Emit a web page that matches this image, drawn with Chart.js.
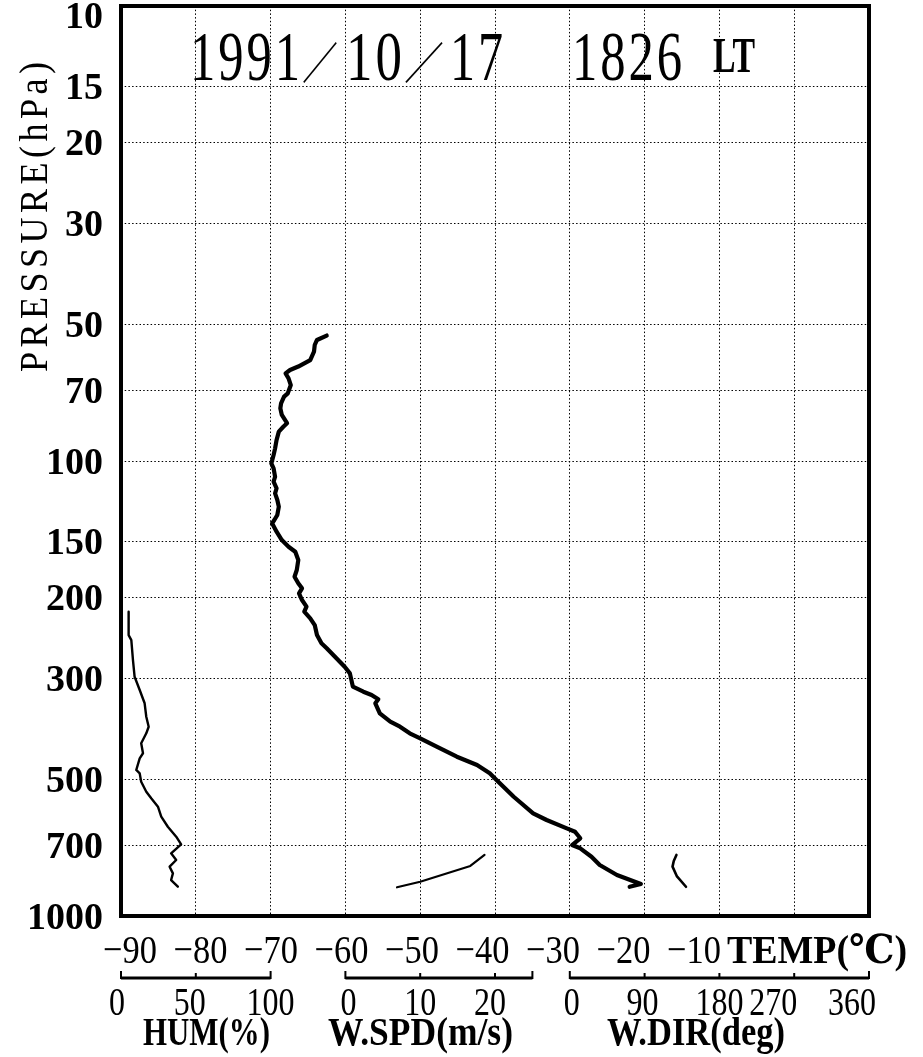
<!DOCTYPE html>
<html>
<head>
<meta charset="utf-8">
<script src="https://cdn.jsdelivr.net/npm/chart.js@4.4.1/dist/chart.umd.min.js"></script>
<style>
  html, body { margin: 0; padding: 0; background: #fff; }
  canvas { display: block; }
</style>
</head>
<body>
<canvas id="chartSonde" width="923" height="1057"></canvas>
<script>
// 축 눈금
const pressureTicks = [10, 15, 20, 30, 50, 70, 100, 150, 200, 300, 500, 700, 1000];
const tempTicks = [-90, -80, -70, -60, -50, -40, -30, -20, -10];
const humTicks = [0, 50, 100];
const spdTicks = [0, 10, 20];
const dirTicks = [0, 90, 180, 270, 360];

// 기온 프로파일 (hPa, ℃)
const tempPressure = [53.0, 54.2, 55.6, 57.5, 60.0, 62.0, 63.1, 64.2, 65.8, 68.1,
  71.0, 72.2, 74.7, 76.6, 79.2, 82.6, 84.1, 86.2, 89.9, 93.8,
  97.0, 101.2, 103.8, 108.3, 111.0, 114.8, 117.8, 121.8, 126.0, 131.4,
  134.8, 137.1, 143.0, 149.2, 154.3, 158.3, 165.1, 173.6, 179.6, 185.7,
  190.5, 195.4, 202.1, 209.0, 214.4, 221.7, 229.4, 241.3, 251.6, 258.0,
  271.4, 283.2, 292.9, 313.3, 321.4, 326.8, 334.0, 340.8, 358.5, 374.1,
  383.7, 396.7, 406.9, 424.6, 446.6, 465.7, 485.8, 502.5, 546.9, 594.7,
  615.2, 641.7, 652.7, 674.9, 698.3, 710.0, 740.9, 772.7, 812.8, 850.7, 862.4];
const tempValues = [-62.5, -63.8, -64.1, -64.2, -64.7, -66.3, -67.4, -68.0, -67.6, -67.3,
  -67.7, -68.2, -68.6, -68.7, -68.5, -67.8, -68.3, -68.9, -69.2, -69.4,
  -69.6, -69.9, -69.6, -69.4, -69.6, -69.2, -69.4, -69.1, -68.9, -69.1,
  -69.5, -69.8, -69.2, -68.5, -67.6, -66.7, -66.3, -66.5, -66.8, -66.3,
  -65.8, -66.2, -65.8, -65.2, -65.5, -64.7, -64.1, -63.8, -63.2, -62.5,
  -61.2, -60.1, -59.4, -59.0, -57.6, -56.5, -55.6, -56.0, -55.4, -54.0,
  -52.7, -51.4, -50.0, -47.8, -45.1, -42.4, -40.7, -39.8, -37.5, -34.9,
  -33.1, -30.4, -29.3, -28.6, -29.7, -28.6, -27.1, -26.0, -23.7, -20.5, -22.0];

// 습도 (%)
const humPressure = [214.4, 241.3, 247.5, 273.8, 298.0, 318.7, 340.8, 364.8, 383.7, 396.7,
  417.3, 438.9, 450.2, 477.6, 485.8, 506.8, 533.1, 551.2, 575.2, 605.0,
  636.6, 669.5, 695.7, 728.1, 753.2, 779.1, 805.9, 833.6, 862.2];
const humValues = [5.1, 5.1, 6.9, 8.0, 9.1, 12.5, 15.8, 16.9, 18.5, 16.9,
  13.5, 14.7, 12.5, 10.2, 12.5, 13.5, 16.9, 20.2, 24.7, 26.9,
  31.3, 36.9, 40.2, 33.5, 36.9, 32.5, 34.7, 33.5, 38.0];

// 풍속 (m/s)
const spdPressure = [864.8, 840.7, 776.3, 734.2];
const spdValues = [6.9, 10.0, 16.7, 18.6];

// 풍향 (deg)
const dirPressure = [734.2, 757.0, 779.0, 817.0, 862.4];
const dirValues = [128.3, 125.1, 123.6, 128.7, 139.8];

const SERIF = "'Liberation Serif', 'DejaVu Serif', 'Noto Sans CJK JP', serif";

function toPoints(xs, ps) {
  return xs.map((v, i) => ({ x: v, y: ps[i] }));
}

function drawFit(ctx, text, x1, x2, baseline, font, spacing) {
  ctx.save();
  ctx.font = font;
  ctx.letterSpacing = (spacing || 0) + 'px';
  const w = ctx.measureText(text).width - (spacing || 0);
  ctx.translate(x1, baseline);
  ctx.scale((x2 - x1) / w, 1);
  ctx.textAlign = 'left';
  ctx.textBaseline = 'alphabetic';
  ctx.fillText(text, 0, 0);
  ctx.restore();
}

function drawScaled(ctx, text, cx, baseline, font, sx) {
  ctx.save();
  ctx.font = font;
  ctx.translate(cx, baseline);
  ctx.scale(sx, 1);
  ctx.textAlign = 'center';
  ctx.textBaseline = 'alphabetic';
  ctx.fillText(text, 0, 0);
  ctx.restore();
}

// 하단 보조 눈금 (습도 / 풍속 / 풍향)
const bracketAxes = [
  { id: 'xh', ticks: humTicks, end: 100, nudge: [-4, -6, 0], title: 'HUM(%)', titleSpan: [143, 270] },
  { id: 'xs', ticks: spdTicks, end: 25, nudge: [3, 0, -5], title: 'W.SPD(m/s)', titleSpan: [328, 513] },
  { id: 'xd', ticks: dirTicks, end: 360, nudge: [2, -2, 0, -21, -17], title: 'W.DIR(deg)', titleSpan: [607, 785] }
];

const sondePlugin = {
  id: 'sondeDecor',
  afterDatasetsDraw(chart) {
    const ctx = chart.ctx;
    ctx.save();
    ctx.fillStyle = '#000';
    // 제목
    const big = '70px ' + SERIF;
    const slash = '44px "Noto Sans CJK JP", sans-serif';
    drawFit(ctx, '1991', 190, 300, 80, big, 4);
    drawFit(ctx, '\uFF0F', 302, 338, 79, slash);
    drawFit(ctx, '10', 346, 402, 80, big, 4);
    drawFit(ctx, '\uFF0F', 404, 444, 79, slash);
    drawFit(ctx, '17', 450, 503, 80, big, 4);
    drawFit(ctx, '1826', 572, 682, 80, big, 4);
    drawFit(ctx, 'LT', 713, 755, 72, 'bold 51px ' + SERIF);
    ctx.restore();
  },
  afterDraw(chart) {
    const ctx = chart.ctx;
    const area = chart.chartArea;
    const xT = chart.scales.x;
    const yP = chart.scales.y;
    ctx.save();
    ctx.fillStyle = '#000';
    ctx.strokeStyle = '#000';

    // 테두리
    ctx.lineWidth = 4;
    ctx.strokeRect(area.left, area.top, area.right - area.left, area.bottom - area.top);

    // 기압 눈금 라벨
    ctx.font = 'bold 38px ' + SERIF;
    ctx.textAlign = 'right';
    ctx.textBaseline = 'alphabetic';
    pressureTicks.forEach(p => {
      const y = yP.getPixelForValue(p);
      ctx.fillText(String(p), 103, Math.max(y + 12.5, 28));
    });

    // 세로 제목
    ctx.save();
    ctx.translate(47, 372);
    ctx.rotate(-Math.PI / 2);
    drawFit(ctx, 'PRESSURE(hPa)', 0, 310, 0, '41px ' + SERIF, 5);
    ctx.restore();

    // 기온 눈금 라벨
    tempTicks.forEach((t, i) => {
      const cx = xT.getPixelForValue(t) + 9 - 4.3 * i;
      drawScaled(ctx, '\u2212' + Math.abs(t), cx, 963, '41px ' + SERIF, 0.84);
    });
    drawFit(ctx, 'TEMP(\u2103)', 727, 907, 963, 'bold 40px ' + SERIF);

    // 보조 눈금 막대
    bracketAxes.forEach(ax => {
      const sc = chart.scales[ax.id];
      const x0 = sc.getPixelForValue(0);
      const x1 = sc.getPixelForValue(ax.end);
      ctx.lineWidth = 3;
      ctx.beginPath();
      ctx.moveTo(x0, 978);
      ctx.lineTo(x1, 978);
      ctx.stroke();
      ctx.lineWidth = 2;
      ctx.beginPath();
      ctx.moveTo(x0, 971); ctx.lineTo(x0, 979);
      ctx.moveTo(x1, 971); ctx.lineTo(x1, 979);
      ax.ticks.forEach(v => {
        if (v > 0 && v < ax.end) {
          const x = sc.getPixelForValue(v);
          ctx.moveTo(x, 973); ctx.lineTo(x, 978);
        }
      });
      ctx.stroke();
      ax.ticks.forEach((v, i) => {
        drawScaled(ctx, String(v), sc.getPixelForValue(v) + ax.nudge[i], 1015, '41px ' + SERIF, 0.78);
      });
      drawFit(ctx, ax.title, ax.titleSpan[0], ax.titleSpan[1], 1045, 'bold 40px ' + SERIF);
    });
    ctx.restore();
  }
};

const lineStyle = {
  borderColor: '#000',
  pointRadius: 0,
  tension: 0,
  fill: false,
  borderCapStyle: 'round',
  borderJoinStyle: 'round'
};

const chart = new Chart(document.getElementById('chartSonde'), {
  type: 'line',
  data: {
    datasets: [
      Object.assign({ label: 'TEMP', data: toPoints(tempValues, tempPressure), xAxisID: 'x', yAxisID: 'y', borderWidth: 4.2 }, lineStyle),
      Object.assign({ label: 'HUM', data: toPoints(humValues, humPressure), xAxisID: 'xh', yAxisID: 'y', borderWidth: 2.4 }, lineStyle),
      Object.assign({ label: 'W.SPD', data: toPoints(spdValues, spdPressure), xAxisID: 'xs', yAxisID: 'y', borderWidth: 2.2 }, lineStyle),
      Object.assign({ label: 'W.DIR', data: toPoints(dirValues, dirPressure), xAxisID: 'xd', yAxisID: 'y', borderWidth: 2.6 }, lineStyle)
    ]
  },
  options: {
    responsive: false,
    animation: false,
    events: [],
    layout: { padding: { left: 121, right: 54, top: 6, bottom: 141 } },
    plugins: { legend: { display: false }, tooltip: { enabled: false } },
    scales: {
      x: {
        type: 'linear', position: 'bottom', min: -90, max: 10,
        ticks: { display: false, stepSize: 10 },
        grid: { color: '#000', lineWidth: 1, drawTicks: false },
        border: { display: false, dash: [1.5, 2.2] }
      },
      xh: { type: 'linear', axis: 'x', position: 'bottom', display: false, min: 0, max: 500 },
      xs: { type: 'linear', axis: 'x', position: 'bottom', display: false, min: -30, max: 70 },
      xd: { type: 'linear', axis: 'x', position: 'bottom', display: false, min: -540, max: 360 },
      y: {
        type: 'logarithmic', position: 'left', min: 10, max: 1000, reverse: true,
        afterBuildTicks: scale => { scale.ticks = pressureTicks.map(v => ({ value: v })); },
        ticks: { display: false },
        grid: { color: '#000', lineWidth: 1, drawTicks: false },
        border: { display: false, dash: [1.5, 2.2] }
      }
    }
  },
  plugins: [sondePlugin]
});
</script>
</body>
</html>
